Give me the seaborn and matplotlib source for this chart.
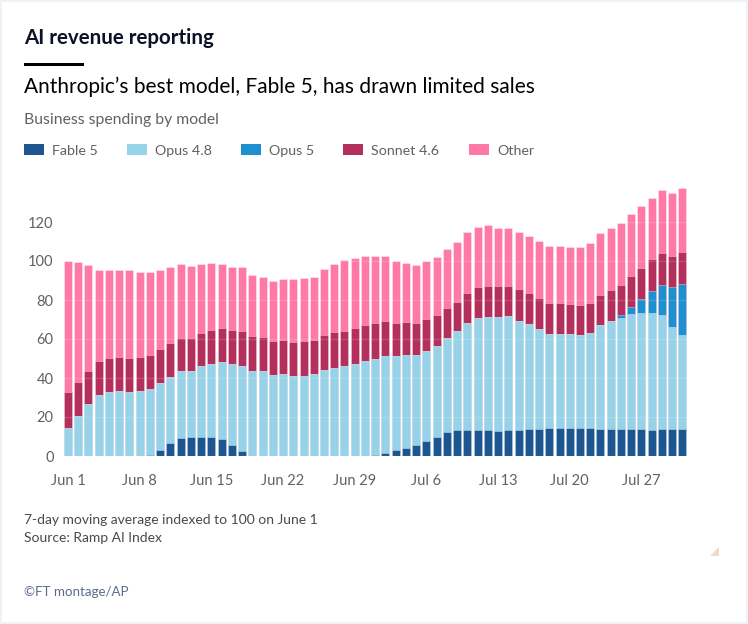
import numpy as np
import pandas as pd
import seaborn as sns
import matplotlib.pyplot as plt
from matplotlib.patches import Rectangle, Polygon

# daily values, Jun 1 - Jul 31 (7-day avg, indexed to 100 on Jun 1)
fable5 = [0, 0, 0, 0, 0, 0, 0, 0, 0.5, 3.2, 6.5, 9.4, 9.6, 9.6, 9.6, 8.9, 5.8, 2.7, 0, 0,
          0, 0, 0, 0, 0, 0, 0, 0, 0, 0, 0.3, 1.7, 3.2, 4.3, 5.5, 7.7, 9.9, 12.3, 13.2, 13.5,
          13.5, 13.2, 13.0, 13.2, 13.5, 13.8, 14.0, 14.4, 14.4, 14.5, 14.5, 14.4, 13.8, 13.7, 13.7,
          14.0, 13.7, 13.5, 13.7, 13.7, 13.7]
opus48 = [14.2, 20.3, 26.5, 31.3, 33.0, 33.2, 32.8, 33.3, 34.0, 34.2, 34.0, 34.0, 33.8, 36.4, 37.6,
          39.3, 41.4, 43.6, 43.6, 43.4, 41.5, 41.9, 40.9, 41.0, 41.9, 44.1, 45.3, 46.2, 47.4, 48.7,
          49.3, 49.4, 47.9, 47.3, 46.1, 46.1, 46.5, 48.2, 50.7, 54.7, 57.4, 58.3, 58.3, 58.4, 55.9,
          53.9, 51.3, 48.3, 48.3, 47.9, 47.5, 48.7, 53.4, 55.5, 56.9, 58.6, 59.8, 59.7, 58.4, 52.3, 48.2]
opus5 = [0] * 54 + [1.7, 3.6, 7.0, 11.2, 15.8, 20.5, 26.3]
sonnet46 = [18.6, 17.8, 17.3, 17.2, 17.4, 17.6, 17.5, 17.3, 17.5, 17.6, 17.5, 17.3, 17.3, 17.1, 17.2,
            17.4, 17.2, 17.8, 17.8, 17.6, 17.6, 17.4, 17.7, 17.8, 17.6, 17.9, 18.1, 18.1, 18.1, 18.5,
            18.4, 18.1, 17.3, 17.1, 16.8, 16.5, 15.7, 15.4, 15.2, 15.6, 15.6, 15.5, 15.9, 15.8, 16.1,
            16.1, 15.9, 15.8, 15.8, 15.4, 15.3, 15.5, 15.5, 15.8, 15.6, 15.9, 16.1, 16.5, 16.2, 16.2, 16.4]
other = [67.2, 61.6, 54.2, 46.9, 45.0, 44.8, 44.9, 43.6, 42.2, 40.4, 38.9, 37.6, 36.6, 35.5, 34.7,
         32.9, 32.4, 32.7, 31.2, 30.8, 30.9, 31.5, 32.2, 32.7, 32.3, 33.7, 35.1, 36.2, 36.2, 35.4,
         34.6, 33.4, 31.6, 30.4, 29.7, 29.7, 30.0, 30.3, 30.6, 31.2, 30.9, 31.3, 29.9, 29.5, 29.4,
         29.0, 28.9, 29.2, 29.2, 29.6, 30.1, 30.6, 31.7, 31.8, 31.8, 31.8, 31.6, 31.6, 32.1, 32.2, 32.8]

series_names = ["Fable 5", "Opus 4.8", "Opus 5", "Sonnet 4.6", "Other"]
series_colors = ["#1d5590", "#96d3e8", "#1e8fcf", "#b3305c", "#ff78a6"]
tick_labels = ["Jun 1", "Jun 8", "Jun 15", "Jun 22", "Jun 29", "Jul 6", "Jul 13", "Jul 20", "Jul 27"]

days = pd.date_range("2025-06-01", "2025-07-31", freq="D")
df = pd.DataFrame({"day": days.strftime("%m-%d"),
                   "Fable 5": fable5, "Opus 4.8": opus48, "Opus 5": opus5,
                   "Sonnet 4.6": sonnet46, "Other": other})
# cumulative tops for stacking
cum = df[series_names].cumsum(axis=1)

sns.set_theme(style="white")
plt.rcParams["font.family"] = ["Lato", "DejaVu Sans"]

W, H = 748, 624
fig = plt.figure(figsize=(W / 100, H / 100), dpi=100)
fig.patch.set_facecolor("#edf2f7")
fig.add_artist(Rectangle((2 / W, 2 / H), (W - 4) / W, (H - 4) / H, zorder=-10,
                         transform=fig.transFigure, facecolor="white", edgecolor="none"))


def px(x, y):
    return x / W, 1 - y / H


# plot area: y=0 at 456px, y=140 at 183px; 10.24px per bar
x0, x1 = -0.6, 60.6
left = 68 - 0.6 * 10.24
ax = fig.add_axes([left / W, 1 - 456 / H, (x1 - x0) * 10.24 / W, (456 - 183) / H])
ax.set_facecolor("none")

# draw from the top of the stack downwards so each layer overlays the one above
for name, color in zip(series_names[::-1], series_colors[::-1]):
    sns.barplot(x=df["day"], y=cum[name], color=color, saturation=1, width=0.78,
                linewidth=0.7, edgecolor=(1, 1, 1, 0.35), ax=ax)

ax.set_xlim(x0, x1)
ax.set_ylim(0, 140)
ax.set_yticks(range(0, 121, 20))
ax.set_xticks(range(0, 57, 7))
ax.set_xticklabels(tick_labels)
ax.set_xlabel("")
ax.set_ylabel("")
ax.tick_params(axis="both", length=0, labelsize=10.5, labelcolor="#66605c")
ax.tick_params(axis="y", pad=6)
ax.tick_params(axis="x", pad=13)
ax.set_axisbelow(False)
ax.grid(axis="y", color="white", alpha=0.15, linewidth=1)
sns.despine(ax=ax, left=True, bottom=True)

# header
fig.text(*px(24, 44), "AI revenue reporting", fontsize=14.8, fontweight="bold",
         color="#0d1126", va="baseline")
fig.add_artist(Rectangle(px(24, 66), 60 / W, 3.5 / H, transform=fig.transFigure,
                         facecolor="black", edgecolor="none"))
fig.text(*px(24, 93), "Anthropic\u2019s best model, Fable 5, has drawn limited sales",
         fontsize=15, color="black", va="baseline")
fig.text(*px(24, 124), "Business spending by model", fontsize=11.3, color="#66605c",
         va="baseline")

# legend
legend_x = [24, 127, 241, 343, 469]
for lx, name, color in zip(legend_x, series_names, series_colors):
    fig.add_artist(Rectangle(px(lx, 154.5), 20 / W, 10 / H, transform=fig.transFigure,
                             facecolor=color, edgecolor="none"))
    fig.text(*px(lx + 28, 155), name, fontsize=10.3, color="#66605c", va="baseline")

# footer
fig.text(*px(24, 524), "7-day moving average indexed to 100 on June 1", fontsize=10,
         color="#4d4845", va="baseline")
fig.text(*px(24, 542), "Source: Ramp AI Index", fontsize=10, color="#4d4845", va="baseline")
fig.text(*px(24, 596), "\u00a9FT montage/AP", fontsize=9.6, color="#5b6b8a", va="baseline")
fig.add_artist(Polygon([px(710, 556), px(719, 556), px(719, 547)], closed=True,
                       transform=fig.transFigure, facecolor="#ebdcce", edgecolor="none"))

fig.savefig("out.png", dpi=100)
